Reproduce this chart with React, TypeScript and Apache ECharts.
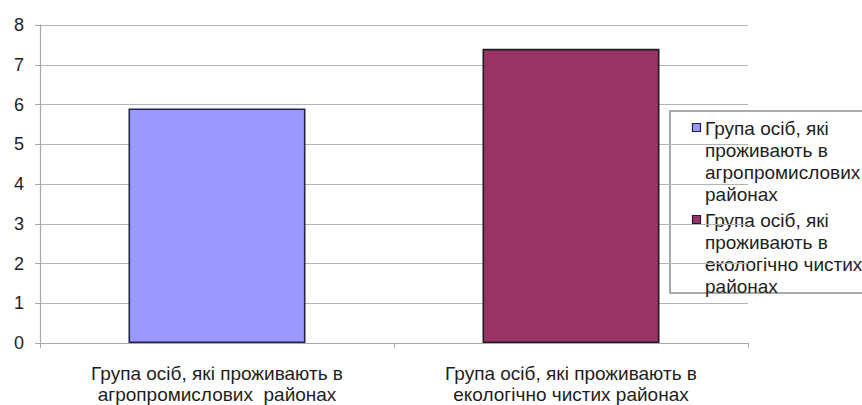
import React, { useEffect, useRef } from "react";
import * as echarts from "echarts";

const categories = [
  "Група осіб, які проживають в\nагропромислових  районах",
  "Група осіб, які проживають в\nекологічно чистих районах",
];
// Legend entries, one line per row inside the legend box
const legendLines = [
  ["Група осіб, які", "проживають в", "агропромислових", "районах"],
  ["Група осіб, які", "проживають в", "екологічно чистих", "районах"],
];
const seriesNames = legendLines.map((l) => l.join(" "));
const agroValues: (number | string)[] = [5.9, "-"];
const cleanValues: (number | string)[] = ["-", 7.4];
const seriesColors = ["#9999FF", "#993366"];
const seriesBorders = ["#22224a", "#1c1c1c"];

const FONT = "Arial, 'Liberation Sans', sans-serif";

export default function App() {
  const ref = useRef<HTMLDivElement>(null);

  useEffect(() => {
    if (!ref.current) return;
    const chart = echarts.init(ref.current, undefined, { renderer: "svg" });

    // Legend drawn as a framed box with one square marker per series
    const legendChildren: any[] = [
      {
        type: "rect",
        shape: { x: 670, y: 111, width: 200, height: 182 },
        style: { fill: "#ffffff", stroke: "#8e8e8e", lineWidth: 1.5 },
      },
    ];
    const itemTops = [128, 220];
    legendLines.forEach((lines, i) => {
      legendChildren.push({
        type: "rect",
        shape: { x: 692.5, y: itemTops[i] - 4.5, width: 8, height: 8 },
        style: { fill: seriesColors[i], stroke: "#1c1c3c", lineWidth: 1.2 },
      });
      legendChildren.push({
        type: "text",
        x: 705,
        y: itemTops[i] - 11,
        style: {
          text: lines.join("\n"),
          font: `19px ${FONT}`,
          lineHeight: 22,
          fill: "#1e1e1e",
          verticalAlign: "top",
        },
      });
    });

    const mkSeries = (i: number, data: (number | string)[]) => ({
      type: "bar",
      name: seriesNames[i],
      data,
      barWidth: "50%",
      barGap: "-100%",
      itemStyle: {
        color: seriesColors[i],
        borderColor: seriesBorders[i],
        borderWidth: 1.6,
      },
    });

    chart.setOption({
      animation: false,
      backgroundColor: "#ffffff",
      grid: { left: 40, right: 114, top: 25, bottom: 61 },
      xAxis: {
        type: "category",
        data: categories,
        axisLine: { lineStyle: { color: "#a8a8a8", width: 1.2 } },
        axisTick: { show: true, length: 5, lineStyle: { color: "#a8a8a8" } },
        axisLabel: {
          color: "#1e1e1e",
          fontSize: 19,
          fontFamily: FONT,
          lineHeight: 21,
          margin: 20,
          interval: 0,
        },
      },
      yAxis: {
        type: "value",
        min: 0,
        max: 8,
        interval: 1,
        axisLine: { show: true, lineStyle: { color: "#a8a8a8", width: 1.2 } },
        axisTick: { show: true, length: 5, lineStyle: { color: "#a8a8a8" } },
        axisLabel: {
          color: "#1e1e1e",
          fontSize: 18,
          fontFamily: FONT,
          margin: 16,
        },
        splitLine: { lineStyle: { color: "#b4b4b4", width: 1.2 } },
      },
      series: [mkSeries(0, agroValues), mkSeries(1, cleanValues)],
      graphic: legendChildren,
    });

    return () => chart.dispose();
  }, []);

  return (
    <div
      ref={ref}
      style={{ position: "fixed", left: 0, top: 0, width: 862, height: 405 }}
    />
  );
}
